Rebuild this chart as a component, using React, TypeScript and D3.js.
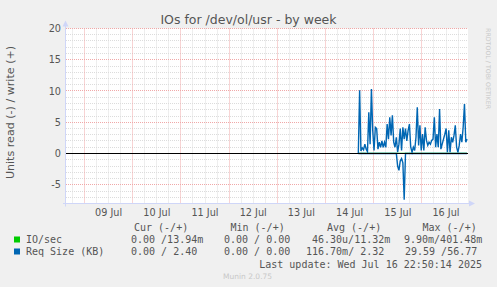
import React from 'react';
import * as d3 from 'd3';

const W = 497;
const H = 287;

const titleText = 'IOs for /dev/ol/usr - by week';
const yLabelText = 'Units read (-) / write (+)';
const yTickValues = [-5, 0, 5, 10, 15, 20];
const dayLabels = ['09 Jul', '10 Jul', '11 Jul', '12 Jul', '13 Jul', '14 Jul', '15 Jul', '16 Jul'];

// Req Size (KB), write (+) side, 30-min samples from 14 Jul 16:20 to 16 Jul 22:30
const reqWrite = [
  0, 10.1, 0.4, 0.9, 0.6, 1.5, 0.7, 0.3, 6.6, 1.5,
  10.3, 3.7, 0.5, 4.2, 4.0, 0.7, 1.8, 1.0, 2.0, 1.0,
  1.8, 1.0, 4.7, 2.3, 5.8, 2.9, 6.1, 1.8, 1.0, 2.6,
  0.2, 1.5, 4.0, 0.5, 4.2, 2.3, 4.0, 2.0, 3.7, 4.7,
  1.0, 0.2, 1.0, 0.5, 2.6, 7.4, 1.3, 4.5, 0.5, 3.1,
  0.5, 4.2, 2.1, 1.3, 1.8, 1.5, 2.1, 2.3, 5.8, 1.0,
  3.1, 1.0, 7.1, 0.7, 1.5, 2.3, 3.1, 4.0, 0.2, 3.7,
  0.2, 2.6, 1.8, 2.9, 4.5, 1.0, 0.2, 1.3, 3.1, 1.8,
  4.2, 7.9, 1.8, 2.3,
];
// Req Size (KB), read (-) side
const reqRead = [
  0, 0, 0, 0, 0, 0, 0, 0, 0, 0,
  0, 0, 0, 0, 0, 0, 0, 0, 0, 0,
  0, 0, 0, 0, 0, 0, 0, 0, 0, 0,
  2.0, 2.7, 1.2, 0.8, 1.5, 7.4, 0, 0, 0, 0,
  0, 0, 0, 0, 0, 0, 0, 0, 0, 0,
  0, 0, 0, 0, 0, 0, 0, 0, 0, 0,
  0, 0, 0, 0, 0, 0, 0, 0, 0, 0,
  0, 0, 0, 0, 0, 0, 0, 0, 0, 0,
  0, 0, 0, 0,
];
// IO/sec write (+) side (tiny)
const ioWrite = [0.02, 0.01, 0.03, 0.01, 0.02, 0.01, 0.01, 0.02, 0.01, 0.01, 0.02, 0.01];

const legendHeaders = ['Cur (-/+)', 'Min (-/+)', 'Avg (-/+)', 'Max (-/+)'];
const ioStats = ['0.00 /13.94m', '0.00 / 0.00', '46.30u/11.32m', '9.90m/401.48m'];
const reqStats = ['0.00 / 2.40', '0.00 / 0.00', '116.70m/ 2.32', '29.59 /56.77'];
const lastUpdate = 'Last update: Wed Jul 16 22:50:14 2025';

const plotL = 66;
const plotR = 468;
const plotT = 28.5;
const plotB = 203.5;

const tStart = Date.UTC(2025, 6, 8, 14, 47);
const tEnd = Date.UTC(2025, 6, 16, 22, 57);
const dataStart = Date.UTC(2025, 6, 14, 16, 20);
const dataEnd = Date.UTC(2025, 6, 16, 22, 30);

const FONT = 'DejaVu Sans, sans-serif';
const MONO = 'DejaVu Sans Mono, monospace';
const TXT = '#555';

export default function App() {
  const x = d3.scaleUtc().domain([tStart, tEnd]).range([plotL, plotR]);
  const y = d3.scaleLinear().domain([-8, 20]).range([plotB, plotT]);
  const snap = (v: number) => Math.floor(v) + 0.5;

  const timeOf = (arr: number[], i: number) => dataStart + (i * (dataEnd - dataStart)) / (arr.length - 1);

  const line = d3.line<[number, number]>().x((d) => d[0]).y((d) => d[1]);
  const pWrite = line(reqWrite.map((v, i) => [x(timeOf(reqWrite, i)), y(v)]));
  const pRead = line(reqRead.map((v, i) => [x(timeOf(reqRead, i)), y(-v)]));
  const pIo = line(ioWrite.map((v, i) => [x(timeOf(ioWrite, i)), y(v)]));

  const minorH = d3.range(-8, 21).filter((v) => v % 5 !== 0);
  const majorH = d3.range(-5, 21, 5);
  const hours6 = d3.utcHour.every(6)!.range(new Date(tStart), new Date(tEnd));
  const minorV = hours6.filter((d) => d.getUTCHours() !== 0);
  const majorV = d3.utcDay.range(new Date(tStart), new Date(tEnd));
  const labelDays = majorV.map((d) => new Date(d.getTime() + 12 * 3600 * 1000));

  const hdrX = [134, 230.5, 327, 422.5];
  const ioX = [131, 224, 312, 404];
  const reqX = [131, 224, 306, 405];

  return (
    <svg width={W} height={H} style={{ position: 'absolute', left: 0, top: 0, background: '#F0F0F0' }}>
      <rect x={0} y={0} width={W} height={H} fill="#F0F0F0" />
      <rect x={plotL} y={plotT} width={plotR - plotL} height={plotB - plotT} fill="#FFFFFF" />

      {minorH.map((v) => (
        <line key={'mh' + v} x1={plotL} x2={plotR} y1={snap(y(v))} y2={snap(y(v))} stroke="#DCDCDC" strokeDasharray="1,1" />
      ))}
      {minorV.map((d) => (
        <line key={'mv' + d.getTime()} x1={snap(x(d))} x2={snap(x(d))} y1={plotT} y2={plotB} stroke="#DCDCDC" strokeDasharray="1,1" />
      ))}
      {majorH.map((v) => (
        <line key={'Mh' + v} x1={plotL} x2={plotR} y1={snap(y(v))} y2={snap(y(v))} stroke="#F0A8A8" strokeDasharray="1,1" />
      ))}
      {majorV.map((d) => (
        <line key={'Mv' + d.getTime()} x1={snap(x(d))} x2={snap(x(d))} y1={plotT} y2={plotB} stroke="#F0A8A8" strokeDasharray="1,1" />
      ))}

      <path d={pIo || ''} fill="none" stroke="#00CC00" strokeWidth={1.3} />
      <path d={pRead || ''} fill="none" stroke="#0066B3" strokeWidth={1.4} />
      <path d={pWrite || ''} fill="none" stroke="#0066B3" strokeWidth={1.4} />

      <line x1={plotL} x2={plotR} y1={y(0)} y2={y(0)} stroke="#000" strokeWidth={1} />

      {/* axes */}
      <line x1={plotL - 0.5} x2={plotL - 0.5} y1={plotB + 3} y2={plotT - 3} stroke="#CFD6F8" />
      <path d={`M${plotL - 3.5},${plotT - 2} L${plotL - 0.5},${plotT - 8} L${plotL + 2.5},${plotT - 2} Z`} fill="#CFD6F8" />
      <line x1={plotL - 3} x2={plotR + 2} y1={plotB} y2={plotB} stroke="#CFD6F8" />
      <path d={`M${plotR + 1},${plotB - 3} L${plotR + 7},${plotB} L${plotR + 1},${plotB + 3} Z`} fill="#CFD6F8" />

      {yTickValues.map((v) => (
        <text key={'yt' + v} x={61} y={y(v) + 3.5} textAnchor="end" fontFamily={FONT} fontSize={9.7} fill={TXT}>
          {v}
        </text>
      ))}
      {labelDays.map((d, i) => (
        <text key={'xt' + i} x={x(d)} y={216} textAnchor="middle" fontFamily={FONT} fontSize={9.7} fill={TXT}>
          {dayLabels[i]}
        </text>
      ))}

      <text x={248.5} y={24} textAnchor="middle" fontFamily={FONT} fontSize={12.5} fill={TXT}>
        {titleText}
      </text>
      <text transform={`translate(14,112.5) rotate(-90)`} textAnchor="middle" fontFamily={FONT} fontSize={11.1} fill={TXT}>
        {yLabelText}
      </text>
      <text transform={`translate(486,28) rotate(90)`} textAnchor="start" fontFamily={FONT} fontSize={6.3} fill="#C8C8C8">
        RRDTOOL / TOBI OETIKER
      </text>

      {legendHeaders.map((t, i) => (
        <text key={'h' + i} x={hdrX[i]} y={231} fontFamily={MONO} fontSize={10} fill={TXT} style={{ whiteSpace: 'pre' }}>
          {t}
        </text>
      ))}
      <rect x={14} y={236.5} width={6} height={6} fill="#00CC00" />
      <text x={26} y={243} fontFamily={MONO} fontSize={10} fill={TXT}>IO/sec</text>
      {ioStats.map((t, i) => (
        <text key={'io' + i} x={ioX[i]} y={243} fontFamily={MONO} fontSize={10} fill={TXT} style={{ whiteSpace: 'pre' }}>
          {t}
        </text>
      ))}
      <rect x={14} y={248.5} width={6} height={6} fill="#0066B3" />
      <text x={26} y={255} fontFamily={MONO} fontSize={10} fill={TXT}>Req Size (KB)</text>
      {reqStats.map((t, i) => (
        <text key={'rq' + i} x={reqX[i]} y={255} fontFamily={MONO} fontSize={10} fill={TXT} style={{ whiteSpace: 'pre' }}>
          {t}
        </text>
      ))}
      <text x={482} y={268} textAnchor="end" fontFamily={MONO} fontSize={10} fill={TXT} style={{ whiteSpace: 'pre' }}>
        {lastUpdate}
      </text>
      <text x={223} y={279} fontFamily={FONT} fontSize={7.5} fill="#C8C8C8">
        Munin 2.0.75
      </text>
    </svg>
  );
}
